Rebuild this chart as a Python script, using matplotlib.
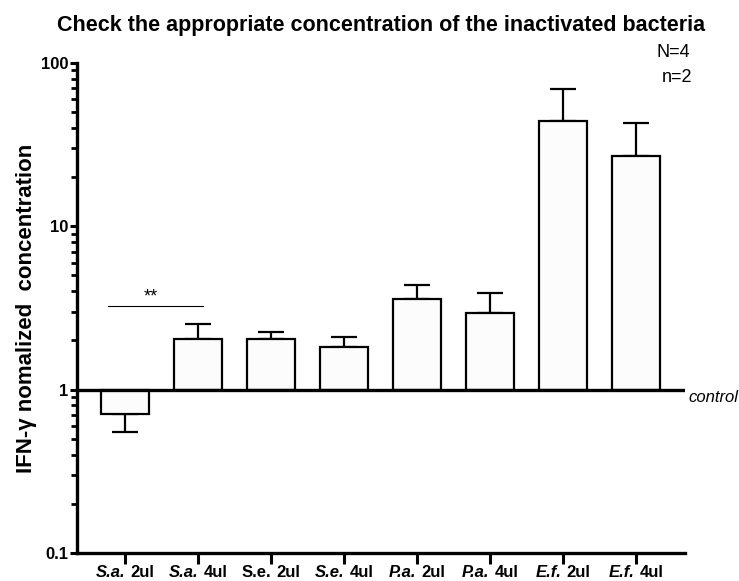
import matplotlib
matplotlib.use("Agg")
import matplotlib.pyplot as plt
import numpy as np
from matplotlib.offsetbox import TextArea, HPacker, AnnotationBbox

plt.rcParams['font.family'] = ['Liberation Sans', 'DejaVu Sans']

# data (bars start at the control level 1)
species = ["S.a.", "S.a.", "S.e.", "S.e.", "P.a.", "P.a.", "E.f.", "E.f."]
species_italic = [True, True, False, True, True, True, True, True]
doses = ["2ul", "4ul", "2ul", "4ul", "2ul", "4ul", "2ul", "4ul"]
means = [0.71, 2.05, 2.05, 1.83, 3.6, 2.96, 44.2, 27.0]
err_low = [0.16, 0, 0, 0, 0, 0, 0, 0]
err_high = [0, 0.48, 0.21, 0.28, 0.79, 0.96, 24.8, 16.0]

fig = plt.figure(figsize=(7.39, 5.81), dpi=100)
ax = fig.add_axes([0.1042, 0.0482, 0.8227, 0.8434])

x = np.arange(len(means))
heights = np.array(means) - 1
ax.bar(x, heights, bottom=1, width=0.66, color="#fcfcfc", edgecolor="black",
       linewidth=1.6, zorder=2)
ax.errorbar(x, means, yerr=[err_low, err_high], fmt="none", ecolor="black",
            elinewidth=1.6, capsize=9.3, capthick=1.6, zorder=1)

ax.set_yscale("log")
ax.set_ylim(0.1, 100)
ax.set_xlim(-0.66, 7.67)

# control line
ax.axhline(1, color="black", linewidth=2.4, zorder=3)
ax.text(1.005, 1, "control", transform=ax.get_yaxis_transform(), style="italic",
        fontsize=12, ha="left", va="top")

# significance
ax.plot([-0.23, 1.07], [3.26, 3.26], color="black", linewidth=0.8)
ax.text(0.35, 3.28, "**", ha="center", va="bottom", fontsize=13)

ax.spines["top"].set_visible(False)
ax.spines["right"].set_visible(False)
ax.spines["left"].set_linewidth(2.4)
ax.spines["bottom"].set_linewidth(2.4)

ax.set_yticks([0.1, 1, 10, 100])
ax.set_yticklabels(["0.1", "1", "10", "100"], fontweight="bold", fontsize=12)
ax.tick_params(axis="y", which="major", length=5, width=2.2, pad=1)
ax.tick_params(axis="y", which="minor", length=4, width=2.0)
ax.yaxis.set_minor_formatter(plt.NullFormatter())

ax.set_xticks(x)
ax.set_xticklabels([])
ax.tick_params(axis="x", length=8, width=2.2)

for i in range(len(x)):
    sp = TextArea(species[i], textprops=dict(fontweight="bold", fontsize=12,
                  style="italic" if species_italic[i] else "normal"))
    ds = TextArea(doses[i], textprops=dict(fontweight="bold", fontsize=12))
    box = HPacker(children=[sp, ds], align="baseline", pad=0, sep=4)
    ab = AnnotationBbox(box, (x[i], 0), xycoords=ax.get_xaxis_transform(),
                        xybox=(0, -9), boxcoords="offset points",
                        box_alignment=(0.5, 1), frameon=False, pad=0)
    ax.add_artist(ab)

ax.set_ylabel("IFN-γ nomalized  concentration", fontweight="bold", fontsize=16,
              labelpad=3)

fig.text(0.5156, 0.9466, "Check the appropriate concentration of the inactivated bacteria",
         ha="center", va="baseline", fontweight="bold", fontsize=15.5)
fig.text(0.911, 0.909, "N=4", ha="center", va="center", fontsize=13)
fig.text(0.916, 0.867, "n=2", ha="center", va="center", fontsize=13)

fig.savefig("out.png", dpi=100)
